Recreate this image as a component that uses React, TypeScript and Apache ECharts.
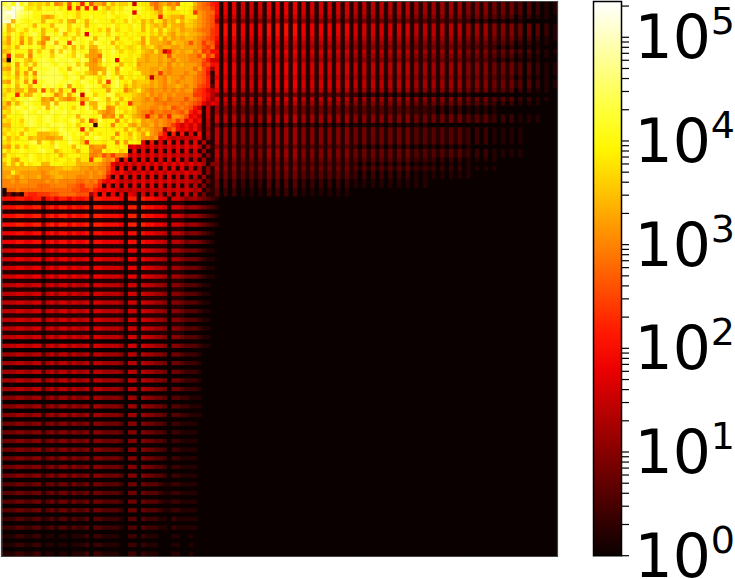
import React, { useEffect, useRef } from "react";
import * as echarts from "echarts";

// Each character is one cell: its base-36 value x 0.2 is log10(count).
const topLeftRows = [
  "lnkpkmijij hkfgjdkibk dhhfkhjiik 8kjjfeghfg ekkkhfedb",
  "omqpokjkil kkljkbkckb kbljhjkjll klkjiegkig lkkjgfeec",
  "pqqonmmkkl llllkkkikk kkkjljlkll 9lkkjigkjj jkkjcgfee",
  "poqnmllkkh ghklklkikk lkkklkjkkl kjkkjjbjih hgjjjgfed",
  "pphmlkklkh lkkilhglkh klkkkikkil jkhjhkjgih khjihgfed",
  "mhmkllkhlk khlllilklh kklkkljkkj lkhkihigjh hgiihgfed",
  "lhilkilklh kkimlikilk kkikhlikkj kkhkikhkih ighhgfeec",
  "kilkiklmkh llkmhklil9 lkklilkkjk kjjkijhjhg ihihhgfec",
  "jglkgkhlkg flmkklilkl lhllklhkkj kkgkhhjgig hghhgfedc",
  "igkkfkhlhf lmhllcmlkl imlklhkjkk jigkhhhgfi hhgdgfced",
  "jikhllklkh lkmlilhlil hhllklikji jkhijhghhg ghgggfdce",
  "hilkkkglil lhmimlilkl ggilkmkikj jkihgjg8bg hghhfgcda",
  "jalhhlflkl lilmlkimlh ggelklkkkj kjhghhghdh gggffdgce",
  "h1lklihklm lkmllmlkml gfhmkl9kjj khhghhghgf hggfffdb8",
  "jilglilhlm mlkmllmilh ggilklkhkj kghhhhghfh ghgggfcda",
  "hglhkkglll lmmklhlmll ggghlkglkk jhhhgghgfg ggggegdb6",
  "jilgkglfml mmmlkmlkli hglhmkhkkj kkhhghcgfg ggfgged a1",
  "kjkhlilimm mmmmklmlil lkikmklhkj kjjh7ggfhg gfggfedb2",
  "hglilglcll mmmllmlkml klhlclmkjk hiiighgfhg fgggfedb1",
  "kjlhlkhlkm lmlkmglkkm llkhilmkhj hihhghgfgg hgfgfdcb3",
  "jhjhhkggld khlgklclkm kkkkglkkfh ikhgfggfgf gfggdcb97",
  "ikkbkhhlkm lkfhlgkm8l likkmlijjj ihghfgfgfg ffffccba7",
  "jkikllmlkg hfkhgfgkgh kmlkhlkhkj hhgfgefgef ffdfedb96",
  "ifkhkmlkkh hmhllkklbl hhllikhkjc hhgggffeff fefedc979",
  "hilmlkmlkm hlmklkilkm jhmkfgkjjk igggffgfgd efeda8181",
  "jilklmlkml kmllmkllkl lkhgfglkij igffdffeef edfb9b181",
  "hkkkkmllkl mlkllklhll kklfgfkgkj hgfafgdfbg gfd9a8181",
  "jikkilmlkl mlklklmkhl cgmkkkfkik ijghgfgfef ce9b8a171",
  "hhkkjlmlkl kmlmlklikk l2lkkfkjkh gigghfgfec a8a8a7171",
  "jikkkikklm lkkmlklkbl hkkkkjkkhk jgihgff7ce a9a8a7161",
  "ikjkhlkkhh hiilmlklkh lkjkkkfkjh kigkgfda1b 1a191a171",
  "khjikkhihh gghhlmkkil kmlkkhkkji kiggfg9a87 878789161",
  "jikkkklmhl kilkkmlkic kkkjkkfkgk kj91a191a1 919191711",
  "hgkhkikklk kjmkkkhlkk fggfkkjkj8 9797979797 979797161",
  "kikklkkklm kkhjkkjhkk gffkjkkij1 a191919191 919181611",
  "hkjkkjlkjk jkkhjkkkjj ffgdfcffe8 9797979797 878687151",
  "jkhgkklkjk jkjkkjkhjj cjjgfgb1a1 9191919191 918171611",
  "hkhkhkjkkh hkkkjjjhhh hhgfe97979 7979797979 797978615",
  "hhhhhhhhgg gghhiihhgg fgffda1a19 1919191919 191817151",
  "ggkhgggggf ghhggggggf gfgfca9a87 9797979797 879787151",
  "ghgfhggghf fghhgggfff gffea1a191 9191919191 818171611",
  "ffgfggffff gfgffffeef efca9a9787 9797979797 878767141",
  "ffffffffee effffeedce edb1a19191 9191919181 818171511",
  "1eefeeeeee eeeeeeddcc dba9a98787 8787878787 878767131",
  "15131cbbcc cddeeeeddd 6a1a191919 8181818181 818171411",
];

const T9 = "b1 a1 a1 91 91 91 a1 a1 a1 a1 91 91 91 91 91 91 81 81 81 81 81 81 81 71 71 71 71 71 71 61 61 61 51 51 51 40 40 30 20 1";
const T8 = "a1 91 91 81 81 81 91 91 91 91 81 81 81 81 81 81 71 71 71 71 71 71 71 61 61 61 61 61 61 51 51 51 41 41 41 30 30 20 10 1";
const T7 = "91 81 81 71 71 71 81 81 81 81 71 71 71 71 71 71 61 61 61 61 61 61 61 51 51 51 51 51 51 41 41 41 31 31 30 20 20 10 10 0";
const T6 = "81 71 71 61 61 61 71 71 71 71 61 61 61 61 61 61 51 51 51 51 51 51 51 41 41 41 41 41 41 31 31 31 20 20 20 10 10 10 00 0";
const T5 = "71 61 61 51 51 51 61 61 61 61 51 51 51 51 51 51 41 41 41 41 41 41 41 31 31 31 31 31 31 20 20 20 10 10 10 10 00 00 00 0";
const T4 = "61 51 51 41 41 41 51 51 51 51 41 41 41 41 41 41 31 31 31 31 31 31 31 21 21 20 20 20 20 10 10 10 10 00 00 00 00 00 00 0";
const T3 = "51 41 41 31 31 31 41 41 41 41 31 31 31 31 31 31 20 20 20 20 20 20 20 10 10 10 10 10 10 10 00";
const T2 = "40 30 30 20 20 20 30 30 30 30 20 20 20 20 20 20 10 10 10 10 10 10 10 10 10 00";
const T1 = "30 20 20 10 10 10 20 20 20 20 10 10 10 10 10 10";

const topRightRows = [
  T8, T8, T8, T7, T5, T9, T9, T9, T8, T7, T6, T8, T7, T6, T8, T8, T8, T7, T8, T8, T7,
  T3, T7, T6, T4, T4, T6, T6, T2, T5, T5, T5, T5, T3, T5, T5, T4, T3, T4, T3, T3, T2, T2, T1, T1,
];

const Ba = "aaabbaabb 5 ab9bb9baab 2 bbaaaa9 1 bb 1 baa998 1 887 5 6654 3210";
const B9 = "999aa99aa 4 9a8aa8a99a 2 aa99998 1 aa 1 a99887 1 776 4 5543 2100";
const B8 = "888998899 4 8979979889 2 9988887 1 99 1 988776 1 665 4 4432 1100";
const B7 = "777887788 3 7868868778 2 8877776 1 88 1 877665 0 554 3 3321 1000";
const B6 = "666776677 3 6757757667 2 7766665 1 77 1 766554 0 443 2 2210 0000";
const B5 = "555665566 2 5646646556 1 6655554 0 66 0 655443 0 332 2 1110 0000";
const B4 = "444554455 2 4535535445 1 5544443 0 55 0 544332 0 221 1 1100 0000";
const B3 = "333443344 1 3424424334 1 4433332 0 44 0 433321 1 221 1 1100 0000";
const B2 = "222332233 1 2313313223 0 3322221 0 33 0 322211 0 211 1 1100 0000";
const B1 = "111221122 0 1101101112 0 2211110 0 22 0 211100 0 110 0 1000 0000";
const D1 = "111111111 0 1111111111 0 1111111 0 11 0 111111 0 111";
const D0 = "";

const bottomLeftRows = [
  Ba, D1, Ba, D1, Ba, D1, Ba, D1, B9, D1, B9, D1, B8, D1, B8, D1, B8, D1, B8, D1, B7, D1,
  B7, D1, B7, D1, B7, D1, B7, D1, B7, D1, B7, D0, B7, D0, B6, D0, B6, D0, B6, D0, B6, D0,
  B6, D0, B5, D0, B5, D0, B5, D0, B4, D0, B4, D0, B4, D0, B4, D0, B4, D0, B4, D0, B4, D0,
  B3, D0, B3, D0, B3, D0, B3, D0, B2, D0, B2, D0, B1, D0, B1, D0, B1,
];

const hotColors = [
  "#0b0000", "#370000", "#640000", "#900000", "#bd0000", "#ea0000", "#ff1700", "#ff4400",
  "#ff7100", "#ff9d00", "#ffca00", "#fff600", "#ffff36", "#ffff79", "#ffffbc", "#ffffff",
];

const exponents = [0, 1, 2, 3, 4, 5];
const multipliers = [1, 2, 3, 4, 5, 6, 7, 8, 9];
const topExponent = 5.345;
const size = 128;

const clean = (s: string) => s.replace(/ /g, "");

function buildCells(): number[][] {
  const cells: number[][] = [];
  const rows: string[] = [];
  topLeftRows.forEach((row, r) => {
    rows.push(clean(row).padEnd(49, "0").slice(0, 49) + clean(topRightRows[r]));
  });
  bottomLeftRows.forEach((row) => rows.push(clean(row)));
  rows.slice(0, size).forEach((row, r) => {
    const full = row.padEnd(size, "0");
    for (let c = 0; c < size; c++) {
      cells.push([c, r, parseInt(full[c], 36) * 0.2]);
    }
  });
  return cells;
}

export default function App() {
  const ref = useRef<HTMLDivElement>(null);
  useEffect(() => {
    document.body.style.margin = "0";
    document.body.style.background = "#fff";
    const chart = echarts.init(ref.current!, null, { renderer: "svg" });
    const indices = Array.from({ length: size }, (_, i) => String(i));
    const tickValues: number[][] = [];
    exponents.forEach((e) =>
      multipliers.forEach((m) => {
        const v = e + Math.log10(m);
        if (v <= topExponent) tickValues.push([1, v]);
      })
    );
    chart.setOption({
      animation: false,
      backgroundColor: "#ffffff",
      textStyle: { fontFamily: "DejaVu Sans" },
      grid: [
        { left: 2.5, top: 2, width: 555, height: 554, show: true, backgroundColor: "#0b0000", borderWidth: 0, outerBoundsMode: "none" },
        { left: 593.5, top: 1.5, width: 28, height: 554.2, outerBoundsMode: "none" },
      ],
      xAxis: [
        { type: "category", data: indices, show: false, gridIndex: 0 },
        { type: "value", show: false, gridIndex: 1, min: 0, max: 1 },
      ],
      yAxis: [
        { type: "category", data: indices, show: false, inverse: true, gridIndex: 0 },
        {
          type: "value",
          gridIndex: 1,
          position: "right",
          min: 0,
          max: topExponent,
          splitLine: { show: false },
          axisLine: { show: false },
          axisTick: { show: false },
          axisLabel: {
            show: true,
            customValues: exponents,
            margin: 13,
            color: "#000",
            fontFamily: "DejaVu Sans",
            verticalAlign: "middle",
            verticalAlignMinLabel: "middle",
            verticalAlignMaxLabel: "middle",
            formatter: (v: number) => `{base|10}{sup|${Math.round(v)}}`,
            rich: {
              base: { fontSize: 60, fontFamily: "DejaVu Sans", color: "#000", lineHeight: 44 },
              sup: {
                fontSize: 38,
                fontFamily: "DejaVu Sans",
                color: "#000",
                verticalAlign: "top",
                height: 12,
                lineHeight: 12,
              },
            },
          },
        },
      ],
      visualMap: {
        type: "continuous",
        seriesIndex: 0,
        min: 0,
        max: topExponent,
        left: 593.5,
        top: 1.5,
        padding: 0,
        itemWidth: 28,
        itemHeight: 554.2,
        calculable: false,
        showLabel: false,
        text: null,
        hoverLink: false,
        inRange: { color: hotColors },
      },
      series: [
        {
          type: "heatmap",
          xAxisIndex: 0,
          yAxisIndex: 0,
          data: buildCells(),
          progressive: 0,
          silent: true,
          itemStyle: { borderWidth: 0 },
          emphasis: { disabled: true },
        },
        {
          type: "custom",
          xAxisIndex: 1,
          yAxisIndex: 1,
          data: tickValues,
          silent: true,
          clip: false,
          encode: { x: 0, y: 1 },
          renderItem: (_params: any, api: any) => {
            const p = api.coord([api.value(0), api.value(1)]);
            return {
              type: "line",
              shape: { x1: p[0], y1: p[1], x2: p[0] + 7.5, y2: p[1] },
              style: { stroke: "#000", lineWidth: 1.2 },
            };
          },
        },
      ],
      graphic: [
        {
          type: "rect",
          z: 100,
          silent: true,
          shape: { x: 593.5, y: 1.5, width: 28, height: 554.2 },
          style: { fill: "none", stroke: "#000", lineWidth: 1.5 },
        },
        {
          type: "rect",
          z: 100,
          silent: true,
          shape: { x: 1.5, y: 1.5, width: 556, height: 555 },
          style: { fill: "none", stroke: "#444", lineWidth: 1.2 },
        },
      ],
    });
    return () => chart.dispose();
  }, []);
  return <div ref={ref} style={{ position: "absolute", left: 0, top: 0, width: 735, height: 579 }} />;
}
